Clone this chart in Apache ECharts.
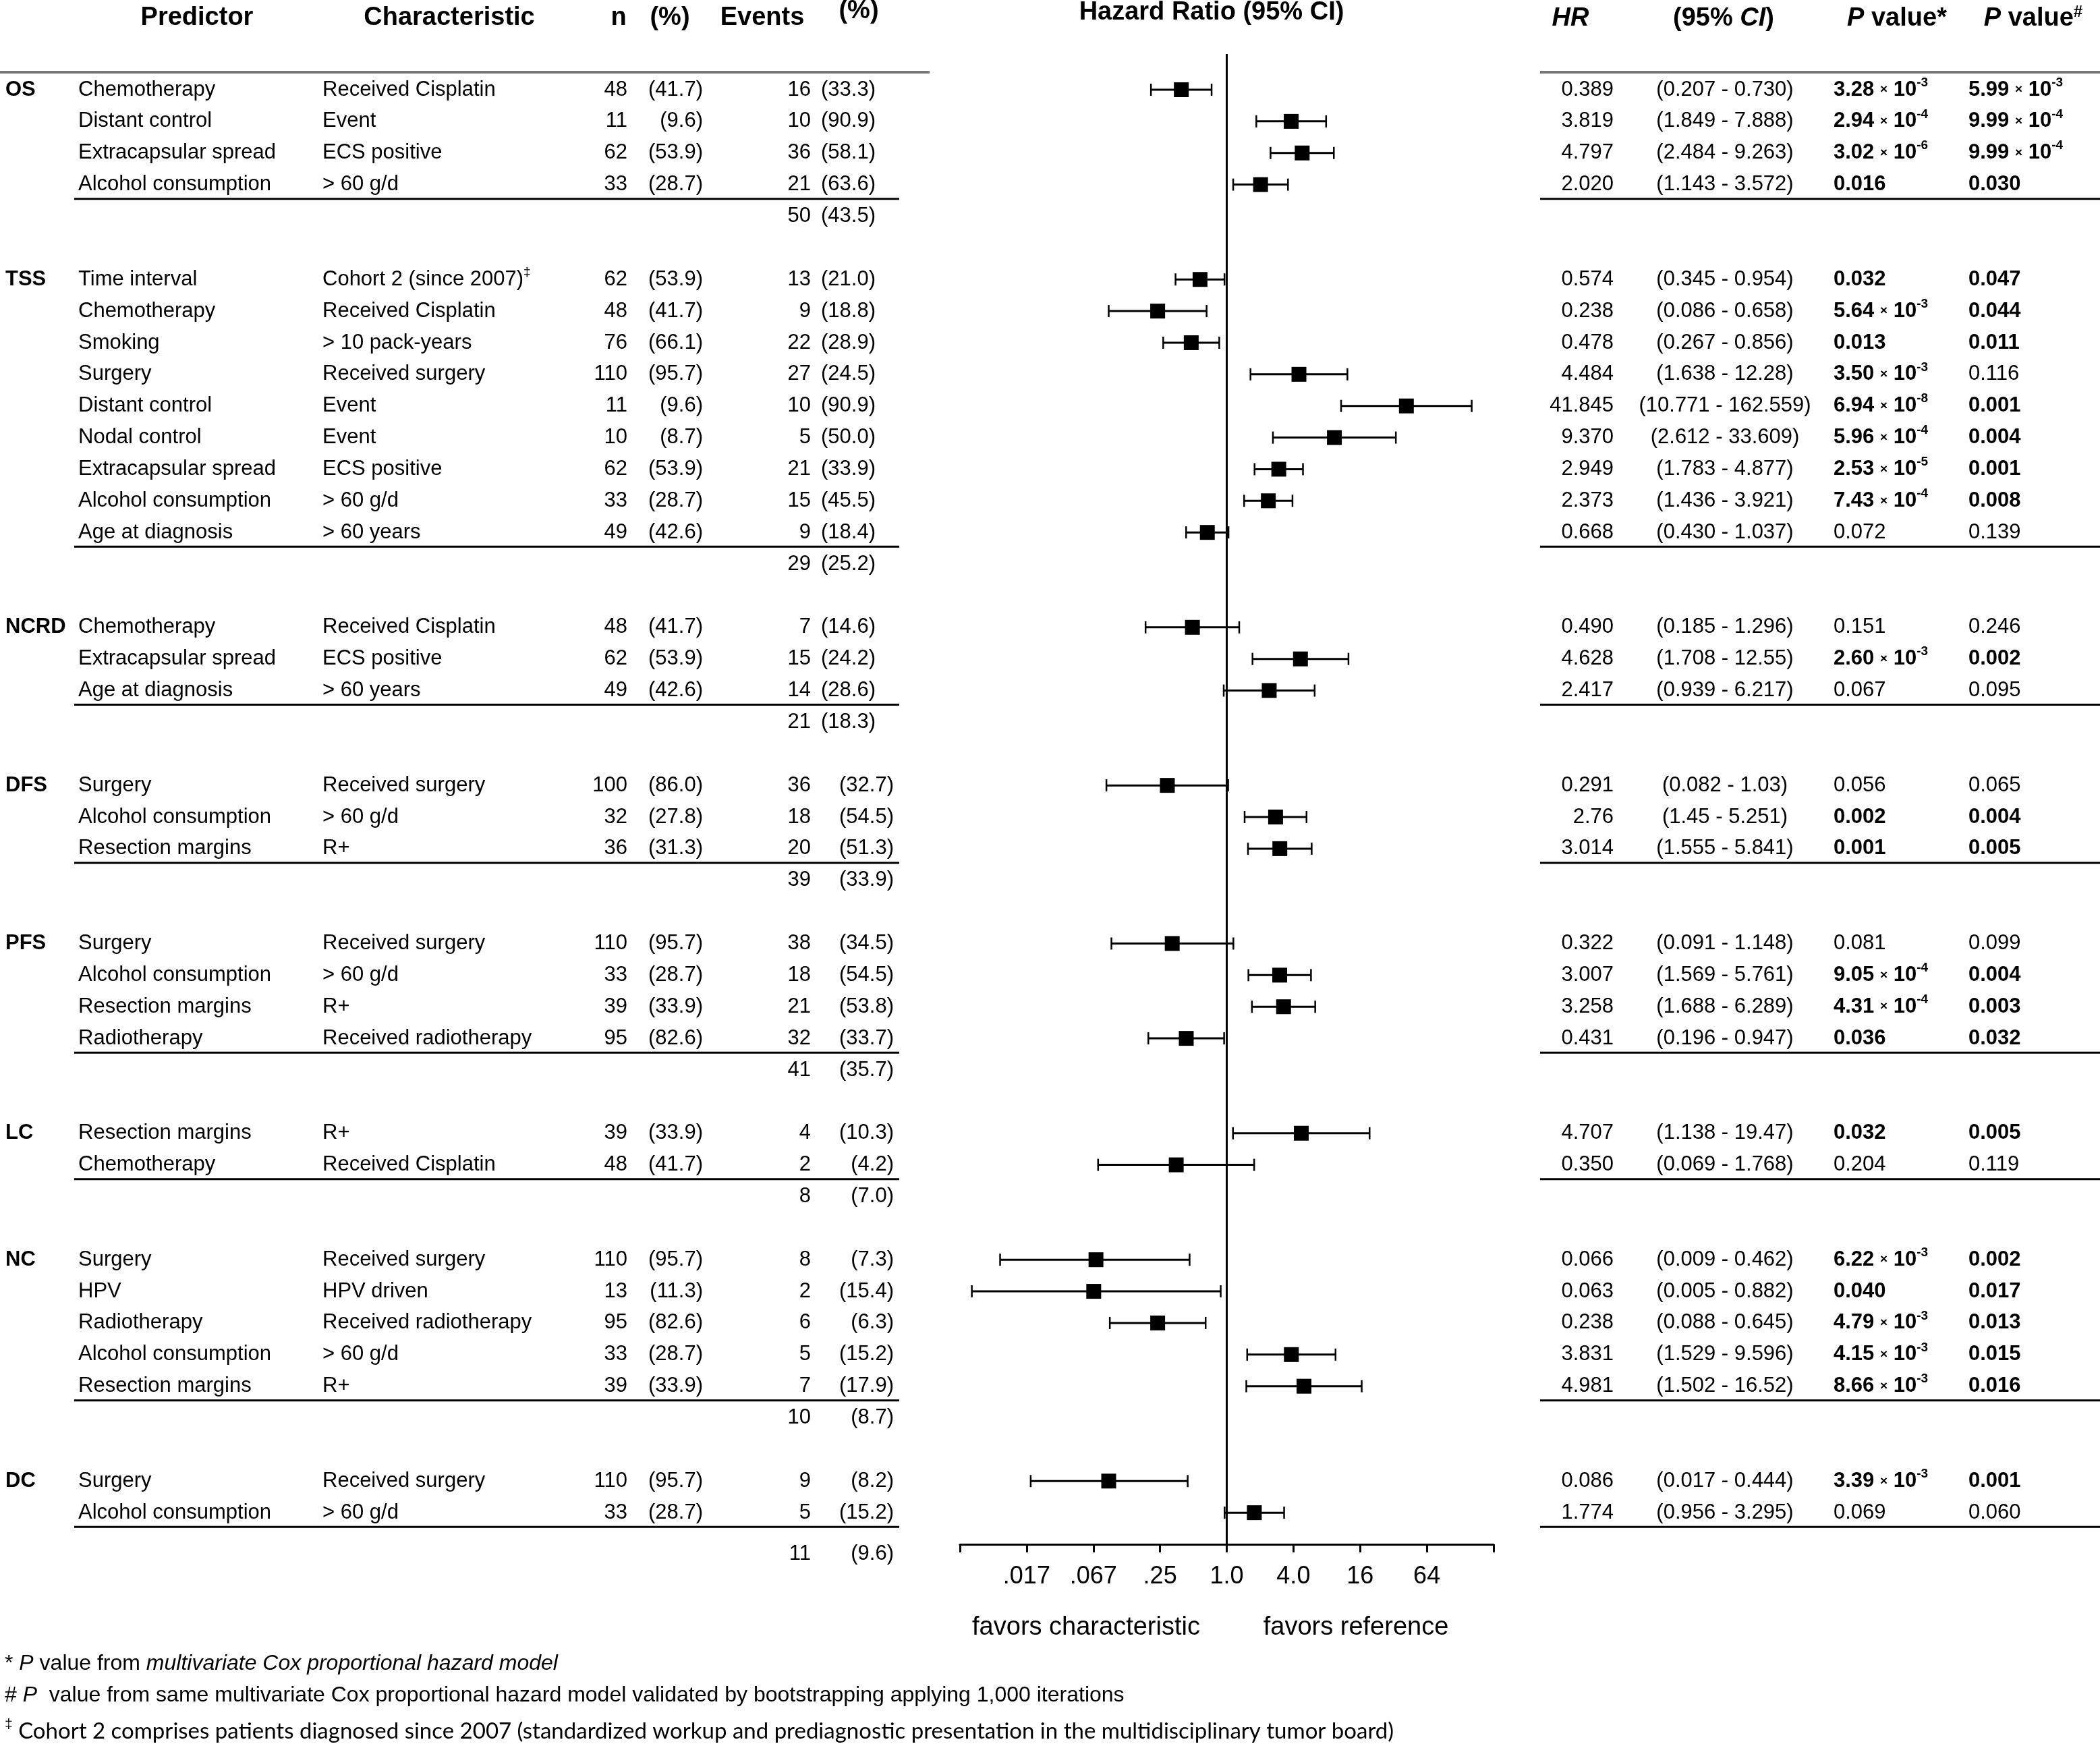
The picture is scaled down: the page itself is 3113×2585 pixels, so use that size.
<!DOCTYPE html>
<html><head><meta charset="utf-8">
<script src="https://cdn.jsdelivr.net/npm/echarts@6/dist/echarts.min.js"></script>
<style>html,body{margin:0;padding:0;background:#fff}#c{width:3113px;height:2585px}</style>
</head><body><div id="c"></div><script>
// ---------------- DATA ----------------
const groups = ['OS','TSS','NCRD','DFS','PFS','LC','NC','DC'];
const groupSizes = [4,9,3,3,4,2,5,2];
const groupEvents = ['50','29','21','39','41','8','10','11'];
const groupEventsPct = ['43.5','25.2','18.3','33.9','35.7','7.0','8.7','9.6'];

const predictors = [
 'Chemotherapy','Distant control','Extracapsular spread','Alcohol consumption',
 'Time interval','Chemotherapy','Smoking','Surgery','Distant control','Nodal control','Extracapsular spread','Alcohol consumption','Age at diagnosis',
 'Chemotherapy','Extracapsular spread','Age at diagnosis',
 'Surgery','Alcohol consumption','Resection margins',
 'Surgery','Alcohol consumption','Resection margins','Radiotherapy',
 'Resection margins','Chemotherapy',
 'Surgery','HPV','Radiotherapy','Alcohol consumption','Resection margins',
 'Surgery','Alcohol consumption'
];
const characteristics = [
 'Received Cisplatin','Event','ECS positive','> 60 g/d',
 'Cohort 2 (since 2007)‡','Received Cisplatin','> 10 pack-years','Received surgery','Event','Event','ECS positive','> 60 g/d','> 60 years',
 'Received Cisplatin','ECS positive','> 60 years',
 'Received surgery','> 60 g/d','R+',
 'Received surgery','> 60 g/d','R+','Received radiotherapy',
 'R+','Received Cisplatin',
 'Received surgery','HPV driven','Received radiotherapy','> 60 g/d','R+',
 'Received surgery','> 60 g/d'
];
const nCount = ['48','11','62','33', '62','48','76','110','11','10','62','33','49', '48','62','49', '100','32','36', '110','33','39','95', '39','48', '110','13','95','33','39', '110','33'];
const nPct = ['41.7','9.6','53.9','28.7', '53.9','41.7','66.1','95.7','9.6','8.7','53.9','28.7','42.6', '41.7','53.9','42.6', '86.0','27.8','31.3', '95.7','28.7','33.9','82.6', '33.9','41.7', '95.7','11.3','82.6','28.7','33.9', '95.7','28.7'];
const events = ['16','10','36','21', '13','9','22','27','10','5','21','15','9', '7','15','14', '36','18','20', '38','18','21','32', '4','2', '8','2','6','5','7', '9','5'];
const eventsPct = ['33.3','90.9','58.1','63.6', '21.0','18.8','28.9','24.5','90.9','50.0','33.9','45.5','18.4', '14.6','24.2','28.6', '32.7','54.5','51.3', '34.5','54.5','53.8','33.7', '10.3','4.2', '7.3','15.4','6.3','15.2','17.9', '8.2','15.2'];
const hr = ['0.389','3.819','4.797','2.020', '0.574','0.238','0.478','4.484','41.845','9.370','2.949','2.373','0.668', '0.490','4.628','2.417', '0.291','2.76','3.014', '0.322','3.007','3.258','0.431', '4.707','0.350', '0.066','0.063','0.238','3.831','4.981', '0.086','1.774'];
const ciLow = ['0.207','1.849','2.484','1.143', '0.345','0.086','0.267','1.638','10.771','2.612','1.783','1.436','0.430', '0.185','1.708','0.939', '0.082','1.45','1.555', '0.091','1.569','1.688','0.196', '1.138','0.069', '0.009','0.005','0.088','1.529','1.502', '0.017','0.956'];
const ciHigh = ['0.730','7.888','9.263','3.572', '0.954','0.658','0.856','12.28','162.559','33.609','4.877','3.921','1.037', '1.296','12.55','6.217', '1.03','5.251','5.841', '1.148','5.761','6.289','0.947', '19.47','1.768', '0.462','0.882','0.645','9.596','16.52', '0.444','3.295'];
const pCox = ['3.28e-3','2.94e-4','3.02e-6','0.016', '0.032','5.64e-3','0.013','3.50e-3','6.94e-8','5.96e-4','2.53e-5','7.43e-4','0.072', '0.151','2.60e-3','0.067', '0.056','0.002','0.001', '0.081','9.05e-4','4.31e-4','0.036', '0.032','0.204', '6.22e-3','0.040','4.79e-3','4.15e-3','8.66e-3', '3.39e-3','0.069'];
const pBoot = ['5.99e-3','9.99e-4','9.99e-4','0.030', '0.047','0.044','0.011','0.116','0.001','0.004','0.001','0.008','0.139', '0.246','0.002','0.095', '0.065','0.004','0.005', '0.099','0.004','0.003','0.032', '0.005','0.119', '0.002','0.017','0.013','0.015','0.016', '0.001','0.060'];
const axisTickLabels = ['', '.017', '.067', '.25', '1.0', '4.0', '16', '64', ''];

// ---------------- LAYOUT ----------------
const W = 3113, H = 2585;
const ROW0 = 133, STEP = 46.87;
const FONT = '"Liberation Sans", Arial, Helvetica, sans-serif';
const FS = 31, HFS = 38;
const COL = {group:8, pred:116, chr:478, nR:930, nPctR:1042, evR:1202, hrR:2392, ciC:2557, p1L:2718, p2L:2918};
const evPctR = [1298,1298,1298,1325,1325,1325,1325,1325];
const RULE_L = [110,1333], RULE_R = [2283,3113];
const FOREST = {left:1423, right:2214, top:80, bottom:2289};
const LAST_TOTAL_SHIFT = 0.3;

// row indices
const rowIdx = [], rowGroup = [], totalIdx = [], groupStart = [], groupEnd = [];
(function(){
  let r = 0;
  groups.forEach((g, gi) => {
    groupStart.push(r);
    for (let j = 0; j < groupSizes[gi]; j++) { rowIdx.push(r); rowGroup.push(gi); r++; }
    groupEnd.push(r - 1);
    totalIdx.push(r + (gi === groups.length - 1 ? LAST_TOTAL_SHIFT : 0));
    r += 2;
  });
})();

const rich = {
  n:  {fontSize:FS, fontFamily:FONT, lineHeight:40, color:'#000'},
  b:  {fontSize:FS, fontFamily:FONT, fontWeight:'bold', lineHeight:40, color:'#000'},
  nx: {fontSize:19, fontFamily:FONT, color:'#000'},
  bx: {fontSize:19, fontFamily:FONT, fontWeight:'bold', color:'#000'},
  ns: {fontSize:19, fontFamily:FONT, lineHeight:19, verticalAlign:'top', color:'#000'},
  bs: {fontSize:19, fontFamily:FONT, fontWeight:'bold', lineHeight:19, verticalAlign:'top', color:'#000'}
};
function pText(s) {
  const w = parseFloat(s) < 0.05 ? 'b' : 'n';
  if (s.indexOf('e') >= 0) {
    const parts = s.split('e');
    return '{' + w + '|' + parts[0] + ' }{' + w + 'x|×}{' + w + '| 10}{' + w + 's|' + parts[1] + '}';
  }
  return '{' + w + '|' + s + '}';
}
function charText(s) {
  if (s.indexOf('‡') >= 0) return '{n|' + s.replace('‡','') + '}{ns|‡}';
  return '{n|' + s + '}';
}

// cells for the table
const cells = [];
function addText(x, row, text, align, bold) { cells.push({kind:'text', x:x, row:row, text:text, align:align, bold:!!bold}); }
function addRich(x, row, text, align) { cells.push({kind:'rich', x:x, row:row, text:text, align:align}); }
groups.forEach((g, gi) => {
  addText(COL.group, groupStart[gi], g, 'left', true);
  addText(COL.evR, totalIdx[gi], groupEvents[gi], 'right');
  addText(evPctR[gi], totalIdx[gi], '(' + groupEventsPct[gi] + ')', 'right');
  cells.push({kind:'rule', x:RULE_L[0], x2:RULE_L[1], row:groupEnd[gi] + 0.45});
  cells.push({kind:'rule', x:RULE_R[0], x2:RULE_R[1], row:groupEnd[gi] + 0.45});
});
predictors.forEach((p, i) => {
  const r = rowIdx[i];
  addText(COL.pred, r, p, 'left');
  addRich(COL.chr, r, charText(characteristics[i]), 'left');
  addText(COL.nR, r, nCount[i], 'right');
  addText(COL.nPctR, r, '(' + nPct[i] + ')', 'right');
  addText(COL.evR, r, events[i], 'right');
  addText(evPctR[rowGroup[i]], r, '(' + eventsPct[i] + ')', 'right');
  addText(COL.hrR, r, hr[i], 'right');
  addText(COL.ciC, r, '(' + ciLow[i] + ' - ' + ciHigh[i] + ')', 'center');
  addRich(COL.p1L, r, pText(pCox[i]), 'left');
  addRich(COL.p2L, r, pText(pBoot[i]), 'left');
});

const forestData = hr.map((v, i) => [parseFloat(v), parseFloat(ciLow[i]), parseFloat(ciHigh[i]), rowIdx[i]]);

// ---------------- CHART ----------------
const chart = echarts.init(document.getElementById('c'), null, {renderer:'canvas', width:W, height:H});

const hdrStyle = {fontSize:HFS, fontWeight:'bold', fontFamily:FONT, fill:'#000', verticalAlign:'middle'};
const hRich = {
  b:  {fontSize:HFS, fontWeight:'bold', fontFamily:FONT, color:'#000', lineHeight:44},
  bi: {fontSize:HFS, fontWeight:'bold', fontStyle:'italic', fontFamily:FONT, color:'#000', lineHeight:44},
  bs: {fontSize:24, fontWeight:'bold', fontFamily:FONT, color:'#000', lineHeight:24, verticalAlign:'top'}
};
function hdr(text, x, y, align) {
  return {type:'text', x:x, y:y, silent:true, style:Object.assign({}, hdrStyle, {text:text, align:align || 'center', rich:hRich})};
}
const fRich = {
  n: {fontSize:32, fontFamily:FONT, color:'#000', lineHeight:38},
  i: {fontSize:32, fontFamily:FONT, fontStyle:'italic', color:'#000', lineHeight:38},
  c: {fontSize:33, fontFamily:'Lato, "Liberation Sans", sans-serif', color:'#000', lineHeight:40},
  s: {fontSize:21, fontFamily:FONT, color:'#000', lineHeight:21, verticalAlign:'top'}
};
function foot(text, y) {
  return {type:'text', x:7, y:y, silent:true, style:{text:text, rich:fRich, align:'left', verticalAlign:'middle', fontSize:32, fontFamily:FONT, fill:'#000'}};
}

const option = {
  animation:false,
  backgroundColor:'#fff',
  grid:[
    {left:FOREST.left, top:FOREST.top, width:FOREST.right - FOREST.left, height:FOREST.bottom - FOREST.top, containLabel:false},
    {left:0, top:0, width:W, height:H, containLabel:false}
  ],
  xAxis:[
    {type:'log', logBase:4, gridIndex:0, min:1/256, max:256, splitNumber:8,
     axisLine:{show:true, onZero:false, lineStyle:{color:'#000', width:3}},
     axisTick:{show:true, length:12, inside:false, lineStyle:{color:'#000', width:3}},
     axisLabel:{show:true, interval:0, margin:30, fontSize:36, color:'#000', fontFamily:FONT, showMinLabel:true, showMaxLabel:true,
       formatter:function(v){ const k = Math.round(Math.log(v) / Math.log(4)) + 4; return axisTickLabels[k] || ''; }},
     splitLine:{show:false}},
    {type:'value', gridIndex:1, min:0, max:W, show:false}
  ],
  yAxis:[
    {type:'value', gridIndex:0, inverse:true, min:(FOREST.top - ROW0) / STEP, max:(FOREST.bottom - ROW0) / STEP, show:false},
    {type:'value', gridIndex:1, inverse:true, min:-ROW0 / STEP, max:(H - ROW0) / STEP, show:false}
  ],
  series:[
    {type:'line', xAxisIndex:0, yAxisIndex:0, data:[], silent:true,
     markLine:{silent:true, symbol:'none', animation:false, label:{show:false},
       lineStyle:{color:'#000', width:3, type:'solid'}, data:[{xAxis:1}]}},
    {type:'custom', xAxisIndex:0, yAxisIndex:0, data:forestData, encode:{x:[0,1,2], y:3}, silent:true, clip:false,
     renderItem:function(params, api){
       const y = api.value(3);
       const c = api.coord([api.value(0), y]);
       const lo = api.coord([api.value(1), y]);
       const hi = api.coord([api.value(2), y]);
       const cap = 9, half = 11;
       const st = {stroke:'#000', lineWidth:3};
       return {type:'group', children:[
         {type:'line', shape:{x1:lo[0], y1:lo[1], x2:hi[0], y2:hi[1]}, style:st},
         {type:'line', shape:{x1:lo[0], y1:lo[1]-cap, x2:lo[0], y2:lo[1]+cap}, style:{stroke:'#000', lineWidth:2.5}},
         {type:'line', shape:{x1:hi[0], y1:hi[1]-cap, x2:hi[0], y2:hi[1]+cap}, style:{stroke:'#000', lineWidth:2.5}},
         {type:'rect', shape:{x:c[0]-half, y:c[1]-half, width:2*half, height:2*half}, style:{fill:'#000'}}
       ]};
     }},
    {type:'custom', xAxisIndex:1, yAxisIndex:1, silent:true, clip:false,
     data:cells.map(function(c){ return [c.x, c.row]; }),
     renderItem:function(params, api){
       const c = cells[params.dataIndex];
       const p = api.coord([api.value(0), api.value(1)]);
       if (c.kind === 'rule') {
         const p2 = api.coord([c.x2, api.value(1)]);
         return {type:'line', shape:{x1:p[0], y1:p[1], x2:p2[0], y2:p2[1]}, style:{stroke:'#000', lineWidth:3}};
       }
       if (c.kind === 'rich') {
         return {type:'text', x:p[0], y:p[1], style:{text:c.text, rich:rich, align:c.align, verticalAlign:'middle', fontSize:FS, fontFamily:FONT, fill:'#000'}};
       }
       return {type:'text', x:p[0], y:p[1], style:{text:c.text, align:c.align, verticalAlign:'middle', fontSize:FS, fontWeight:c.bold ? 'bold' : 'normal', fontFamily:FONT, fill:'#000'}};
     }}
  ],
  graphic:[
    hdr('Predictor', 292, 27),
    hdr('Characteristic', 666, 27),
    hdr('n', 917, 27),
    hdr('(%)', 993, 27),
    hdr('Events', 1130, 27),
    hdr('(%)', 1273, 17),
    hdr('Hazard Ratio (95% CI)', 1796, 19),
    hdr('{bi|HR}', 2328, 28),
    hdr('{b|(95% }{bi|CI}{b|)}', 2555, 28),
    hdr('{bi|P}{b| value*}', 2812, 28),
    hdr('{bi|P}{b| value}{bs|#}', 3014, 28),
    {type:'line', silent:true, shape:{x1:0, y1:107, x2:1378, y2:107}, style:{stroke:'#777', lineWidth:4}},
    {type:'line', silent:true, shape:{x1:2283, y1:107, x2:W, y2:107}, style:{stroke:'#777', lineWidth:4}},
    {type:'text', x:1610, y:2413, silent:true, style:{text:'favors characteristic', align:'center', verticalAlign:'middle', fontSize:38, fontFamily:FONT, fill:'#000'}},
    {type:'text', x:2010, y:2413, silent:true, style:{text:'favors reference', align:'center', verticalAlign:'middle', fontSize:38, fontFamily:FONT, fill:'#000'}},
    foot('{n|* }{i|P}{n| value from }{i|multivariate Cox proportional hazard model}', 2466),
    foot('{n|# }{i|P}{n|  value from same multivariate Cox proportional hazard model validated by bootstrapping applying 1,000 iterations}', 2513),
    foot('{s|‡}{c| Cohort 2 comprises patients diagnosed since 2007 (standardized workup and prediagnostic presentation in the multidisciplinary tumor board)}', 2566)
  ]
};
chart.setOption(option);
</script></body></html>
